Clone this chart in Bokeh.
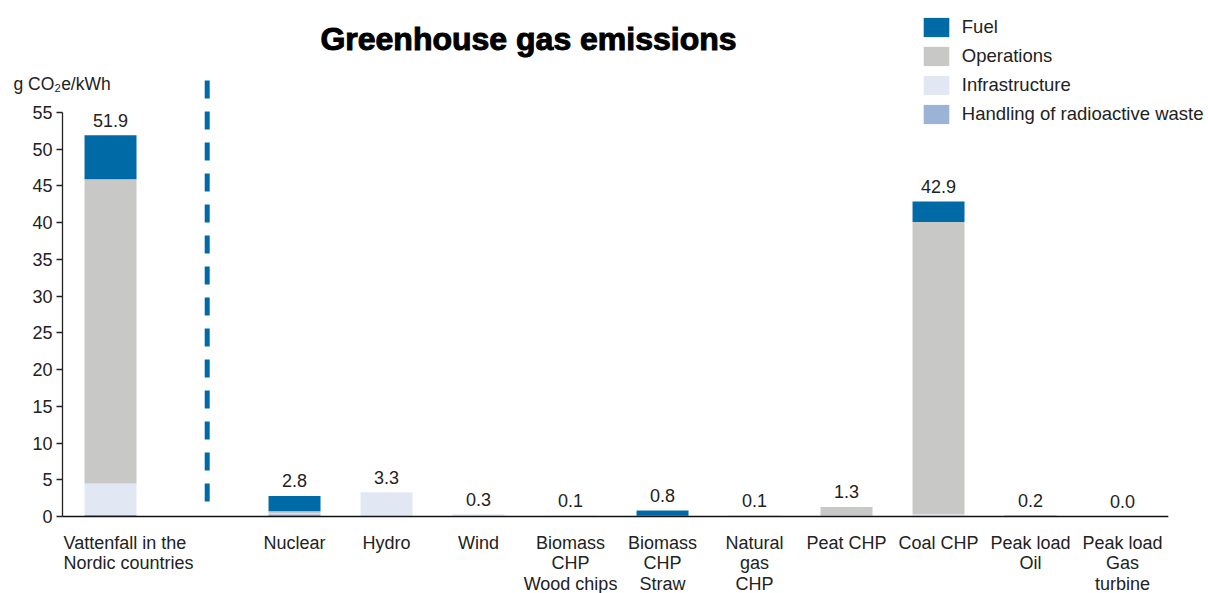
from bokeh.plotting import figure
from bokeh.models import (ColumnDataSource, Legend, LegendItem, Label, FixedTicker,
                          Range1d, LinearAxis)
from bokeh.core.properties import value
from bokeh.embed import file_html
from bokeh.resources import INLINE

# ---------------- data ----------------
categories = ["Vattenfall in the\nNordic countries", "Nuclear", "Hydro", "Wind",
              "Biomass\nCHP\nWood chips", "Biomass\nCHP\nStraw", "Natural\ngas\nCHP",
              "Peat CHP", "Coal CHP", "Peak load\nOil", "Peak load\nGas\nturbine"]
fuel = [6.0, 2.1, 0.0, 0.0, 0.0, 0.7, 0.0, 0.0, 2.8, 0.0, 0.0]
operations = [41.4, 0.3, 0.0, 0.0, 0.0, 0.0, 0.1, 1.2, 39.8, 0.1, 0.0]
infrastructure = [4.3, 0.1, 3.3, 0.3, 0.1, 0.1, 0.0, 0.1, 0.3, 0.1, 0.0]
radioactive_waste = [0.2, 0.3, 0.0, 0.0, 0.0, 0.0, 0.0, 0.0, 0.0, 0.0, 0.0]
totals = [51.9, 2.8, 3.3, 0.3, 0.1, 0.8, 0.1, 1.3, 42.9, 0.2, 0.0]
y_ticks = [0, 5, 10, 15, 20, 25, 30, 35, 40, 45, 50, 55]
series_names = ["Fuel", "Operations", "Infrastructure", "Handling of radioactive waste"]
series_colors = ["#006AA7", "#C8C8C6", "#E1E7F3", "#9BB3D6"]

# ---------------- layout helpers ----------------
W, H = 1208, 593
PX_X = 92.0               # px per category step
AXIS_X = -0.522           # data x where the y axis sits (px 62)
X0 = AXIS_X - 62 / PX_X   # data x at canvas left
Y0_PX = 516               # px row of y = 0
PX_Y = 7.345              # px per y unit

def px_x(px):
    return X0 + px / PX_X

def px_y(py):
    return (Y0_PX - py) / PX_Y

# first category separated from the rest by a gap slot
positions = [0] + [i + 1 for i in range(1, len(categories))]

src = ColumnDataSource(dict(
    x=positions, fuel=fuel, operations=operations, infrastructure=infrastructure,
    waste=radioactive_waste, total=totals,
    vlabel=[f"{t:.1f}" for t in totals],
))

FONT = "Liberation Sans"
TXT = "#222222"

p = figure(width=W, height=H, output_backend="svg", toolbar_location=None,
           x_range=Range1d(X0, X0 + W / PX_X),
           y_range=Range1d(-(H - Y0_PX) / PX_Y, Y0_PX / PX_Y),
           x_axis_location=None, y_axis_location=None, min_border=0)
p.outline_line_color = None
p.grid.visible = False
p.background_fill_color = "white"
p.border_fill_color = "white"

# y axis
ax = LinearAxis(fixed_location=AXIS_X)
ax.ticker = FixedTicker(ticks=y_ticks)
ax.bounds = (0, 55)
ax.major_tick_out = 6
ax.major_tick_in = 0
ax.minor_tick_out = 0
ax.minor_tick_in = 0
ax.axis_line_color = TXT
ax.axis_line_width = 1.3
ax.major_tick_line_color = TXT
ax.major_tick_line_width = 1.3
ax.major_label_text_font = FONT
ax.major_label_text_font_size = "18px"
ax.major_label_text_color = TXT
ax.major_label_standoff = 4
p.add_layout(ax, "left")

# stacked bars (bottom to top)
stack_keys = ["waste", "infrastructure", "operations", "fuel"]
stack_colors = [series_colors[3], series_colors[2], series_colors[1], series_colors[0]]
rs = p.vbar_stack(stack_keys, x="x", width=0.565, fill_color=stack_colors,
                  line_color=None, source=src)

# baseline (x axis line)
p.segment(x0=[AXIS_X], y0=[0], x1=[AXIS_X + 12.02], y1=[0], line_color="#111111", line_width=1.5)

# divider between company total and technologies
p.segment(x0=[px_x(206.7)], y0=[px_y(80)], x1=[px_x(206.7)], y1=[px_y(508)],
          line_color="#006AA7", line_width=5, line_dash="18 13", line_cap="butt")

# value labels
p.text(x="x", y="total", text="vlabel", source=src, y_offset=-15,
       text_align="center", text_baseline="alphabetic",
       text_font=value(FONT), text_font_size="18px", text_color=TXT)

# category labels
cat_src = ColumnDataSource(dict(x=positions[1:], t=categories[1:]))
p.text(x="x", y=0, text="t", source=cat_src, y_offset=16,
       text_align="center", text_baseline="top", text_line_height=1.045,
       text_font=value(FONT), text_font_size="18px", text_color=TXT)
first_src = ColumnDataSource(dict(x=[AXIS_X + 0.011], t=[categories[0]]))
p.text(x="x", y=0, text="t", source=first_src, y_offset=16,
       text_align="left", text_baseline="top", text_line_height=1.045,
       text_font=value(FONT), text_font_size="18px", text_color=TXT)

# title
p.add_layout(Label(x=px_x(528), y=px_y(38), text="Greenhouse gas emissions",
                   text_align="center", text_baseline="alphabetic",
                   text_font=FONT, text_font_style="bold", text_font_size="32px",
                   text_color="#000000", text_outline_color="#000000"))
# unit label
p.add_layout(Label(x=px_x(13), y=px_y(83), text="g CO\u2082e/kWh",
                   text_align="left", text_baseline="alphabetic",
                   text_font=FONT, text_font_size="17.5px", text_color=TXT))

# legend
by_name = dict(zip(stack_keys, rs))
legend = Legend(items=[
    LegendItem(label=series_names[0], renderers=[by_name["fuel"]]),
    LegendItem(label=series_names[1], renderers=[by_name["operations"]]),
    LegendItem(label=series_names[2], renderers=[by_name["infrastructure"]]),
    LegendItem(label=series_names[3], renderers=[by_name["waste"]]),
], location=(919.8, H - 125.6), glyph_width=32, glyph_height=24,
    label_standoff=10, spacing=5, padding=0, margin=0, label_height=19,
    border_line_color=None, background_fill_alpha=0,
    label_text_font=FONT, label_text_font_size="18.5px", label_text_color=TXT)
p.add_layout(legend)

open("out.html", "w").write(file_html(p, INLINE))
